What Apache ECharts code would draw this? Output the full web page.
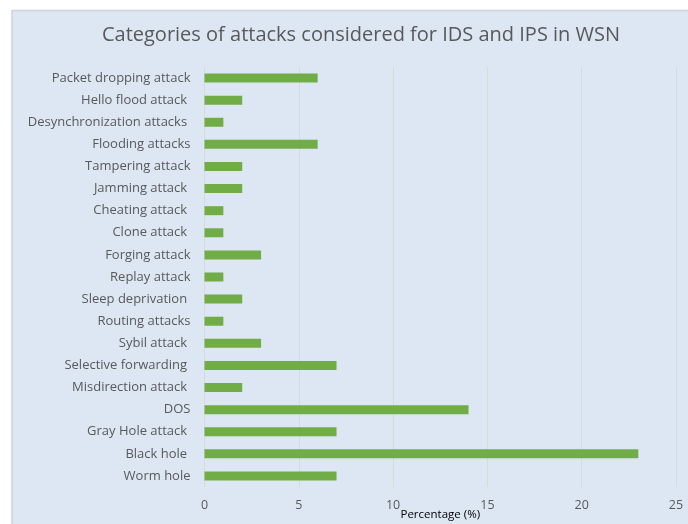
<!DOCTYPE html>
<html>
<head>
<meta charset="utf-8">
<script src="https://cdn.jsdelivr.net/npm/echarts@6/dist/echarts.min.js"></script>
<style>
html,body{margin:0;padding:0;background:#fff;}
#chart{width:688px;height:524px;}
</style>
</head>
<body>
<div id="chart"></div>
<script>
var titleText = 'Categories of attacks considered for IDS and IPS in WSN';
var categories = ['Packet dropping attack', 'Hello flood attack ', 'Desynchronization attacks ', 'Flooding attacks', 'Tampering attack', 'Jamming attack ', 'Cheating attack ', 'Clone attack ', 'Forging attack', 'Replay attack', 'Sleep deprivation ', 'Routing attacks', 'Sybil attack ', 'Selective forwarding ', 'Misdirection attack ', 'DOS', 'Gray Hole attack ', 'Black hole ', 'Worm hole'];
var values = [6, 2, 1, 6, 2, 2, 1, 1, 3, 1, 2, 1, 3, 7, 2, 14, 7, 23, 7];
var xTicks = [0, 5, 10, 15, 20, 25];
var xAxisName = 'Percentage (%)';

var font = 'Open Sans';
var chart = echarts.init(document.getElementById('chart'), null, {renderer: 'canvas'});
chart.setOption({
  animation: false,
  backgroundColor: '#ffffff',
  graphic: [{
    type: 'rect', z: -10, silent: true,
    shape: {x: 12, y: 10.5, width: 690, height: 530},
    style: {fill: '#dce7f3', stroke: '#cfd3d8', lineWidth: 1.5}
  }],
  title: {
    text: titleText,
    left: 356, top: 20, textAlign: 'center',
    textStyle: {fontFamily: font, fontSize: 20, fontWeight: 'normal', color: '#595959'}
  },
  grid: {left: 204.5, right: 12, top: 67, bottom: 37, containLabel: false, outerBoundsMode: 'none'},
  xAxis: {
    type: 'value', min: xTicks[0], max: xTicks[xTicks.length - 1], interval: 5,
    name: xAxisName, nameLocation: 'middle', nameGap: 22, nameMoveOverlap: false,
    nameTextStyle: {fontFamily: font, fontSize: 11.5, color: '#000000'},
    axisLine: {show: false}, axisTick: {show: false},
    axisLabel: {fontFamily: font, fontSize: 12.5, color: '#595959', margin: 12},
    splitLine: {show: true, lineStyle: {color: '#d9d9d9', width: 1}}
  },
  yAxis: {
    type: 'category', data: categories, inverse: true,
    axisLine: {show: false}, axisTick: {show: false},
    axisLabel: {fontFamily: font, fontSize: 13, color: '#595959', margin: 14},
    splitLine: {show: false}
  },
  series: [{
    type: 'bar', data: values, barWidth: 9,
    itemStyle: {color: '#70ad47'}
  }]
});
</script>
</body>
</html>
